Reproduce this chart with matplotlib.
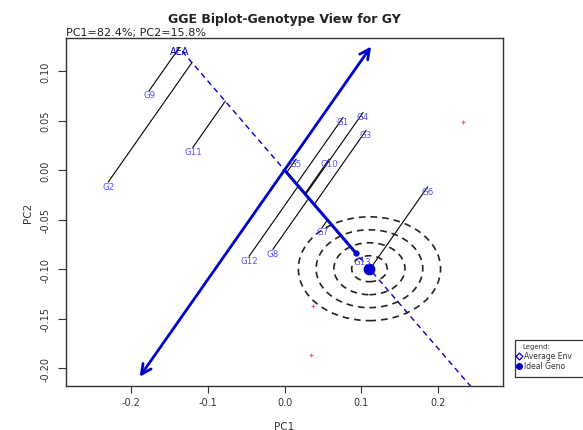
import numpy as np
import matplotlib
matplotlib.use('Agg')
import matplotlib.pyplot as plt
from matplotlib.patches import Ellipse, Rectangle
from matplotlib.lines import Line2D

# ---- data ----
genotypes = ['G1', 'G2', 'G3', 'G4', 'G5', 'G6', 'G7', 'G8', 'G9', 'G10', 'G11', 'G12', 'G13']
gen_pc1 = [0.076, -0.229, 0.106, 0.102, 0.015, 0.186, 0.049, -0.015, -0.176, 0.058, -0.119, -0.046, 0.101]
gen_pc2 = [0.053, -0.012, 0.040, 0.058, 0.011, -0.017, -0.058, -0.080, 0.080, 0.011, 0.023, -0.087, -0.088]
env_pc1 = [0.2314, 0.0374, 0.0344]
env_pc2 = [0.0482, -0.1377, -0.1866]
aea_pc1, aea_pc2 = -0.133, 0.120
ideal_pos = -0.1487          # position of ideal genotype on AEA axis
mark_pos = -0.125            # end of thick segment on AEA axis
perp_range = [-0.281, 0.168] # extent of perpendicular axis
n_circles = 4
xticks = [-0.2, -0.1, 0.0, 0.1, 0.2]
yticks = [0.10, 0.05, 0.00, -0.05, -0.10, -0.15, -0.20]
legend_labels = ['Average Env', 'Ideal Geno']

W, H = 583, 431
fig = plt.figure(figsize=(W / 100, H / 100), dpi=100)
fig.patch.set_facecolor('white')
L, R, T, B = 66, 503, 39, 387
ax = fig.add_axes([L / W, (H - B) / H, (R - L) / W, (B - T) / H])
ax.set_xlim(-0.284, 0.284)
ax.set_ylim(-0.218, 0.1333)

blue = '#0000cc'
lab_col = '#5050ff'

u = np.array([aea_pc1, aea_pc2])
u = u / np.linalg.norm(u)
v = np.array([u[1], -u[0]])
if v[1] < 0:
    v = -v

# AEA dashed axis
p_end = -0.34 * u
ax.plot([aea_pc1, p_end[0]], [aea_pc2, p_end[1]], color=blue, lw=1.0,
        dashes=(4, 3), zorder=2)
# thick segment from origin
m = mark_pos * u
ax.plot([0, m[0]], [0, m[1]], color=blue, lw=2.2, zorder=3)
ax.plot([m[0]], [m[1]], 'o', color=blue, ms=3.5, zorder=3)

# perpendicular axis with arrows
a0 = perp_range[0] * v
a1 = perp_range[1] * v
ax.annotate('', xy=a1, xytext=a0,
            arrowprops=dict(arrowstyle='<->,head_length=0.7,head_width=0.35',
                            color=blue, lw=2.0, shrinkA=0, shrinkB=0), zorder=3)

# projection lines
for gx, gy in zip(gen_pc1, gen_pc2):
    g = np.array([gx, gy])
    f = np.dot(g, u) * u
    ax.plot([gx, f[0]], [gy, f[1]], color='black', lw=0.8, zorder=2)

# concentric circles around ideal genotype
ideal = ideal_pos * u
rx, ry = 0.0231, 0.0131
for k in range(1, n_circles + 1):
    e = Ellipse(ideal, 2 * rx * k, 2 * ry * k, fill=False, edgecolor='#222222',
                lw=1.2, linestyle=(0, (4, 3)), zorder=2)
    ax.add_patch(e)
ax.plot([ideal[0]], [ideal[1]], 'o', color=blue, ms=7.5, zorder=4)

# genotype labels
for name, gx, gy in zip(genotypes, gen_pc1, gen_pc2):
    ax.annotate(name, (gx, gy), xytext=(0, -3), textcoords='offset points',
                ha='center', va='center', fontsize=6.2, color=lab_col, zorder=5)
ax.annotate('AEA', (aea_pc1, aea_pc2), xytext=(-2, 0), textcoords='offset points',
            ha='center', va='center', fontsize=7, color=blue, zorder=5)

# environment markers
ax.plot(env_pc1, env_pc2, '+', color='#ff6060', ms=3, mew=0.8, zorder=2)

# axes styling
ax.set_xticks(xticks)
ax.set_xticklabels(['%.1f' % t for t in xticks], fontsize=7, color='#333333')
ax.set_yticks(yticks)
ax.set_yticklabels(['%.2f' % t for t in yticks], fontsize=7, color='#333333',
                   rotation=90, va='center')
ax.tick_params(axis='x', length=5, width=0.8, pad=3, color='#333333')
ax.tick_params(axis='y', length=6, width=0.8, pad=5, color='#333333')
for s in ax.spines.values():
    s.set_color('#333333')
    s.set_linewidth(1.0)

# texts
fig.text(284.5 / W, 1 - 20 / H, 'GGE Biplot-Genotype View for GY', ha='center',
         va='center', fontsize=9, fontweight='bold', color='#222222')
fig.text(L / W, 1 - 33 / H, 'PC1=82.4%; PC2=15.8%', ha='left', va='center',
         fontsize=8, color='#222222')
fig.text(284.5 / W, 1 - 427 / H, 'PC1', ha='center', va='center', fontsize=7.5,
         color='#333333')
fig.text(28 / W, 1 - 213 / H, 'PC2', ha='center', va='center', fontsize=7.5,
         color='#333333', rotation=90)

# legend (partially outside figure)
lx, ly_top, ly_bot = 515, 341, 378
fig.patches.append(Rectangle((lx / W, 1 - ly_bot / H), 90 / W, (ly_bot - ly_top) / H,
                             transform=fig.transFigure, fill=False,
                             edgecolor='#333333', lw=0.9))
fig.text(536 / W, 1 - 347 / H, 'Legend:', ha='center', va='center', fontsize=5,
         color='#333333')
fig.lines.append(Line2D([519 / W], [1 - 357 / H], transform=fig.transFigure,
                        marker='D', ms=3.5, mfc='white', mec=blue, mew=0.9, ls=''))
fig.lines.append(Line2D([519 / W], [1 - 367 / H], transform=fig.transFigure,
                        marker='o', ms=4, color=blue, ls=''))
fig.text(524 / W, 1 - 357 / H, legend_labels[0], ha='left', va='center',
         fontsize=5.5, color='#333333')
fig.text(524 / W, 1 - 367 / H, legend_labels[1], ha='left', va='center',
         fontsize=5.5, color='#333333')

fig.savefig('out.png', dpi=100)
